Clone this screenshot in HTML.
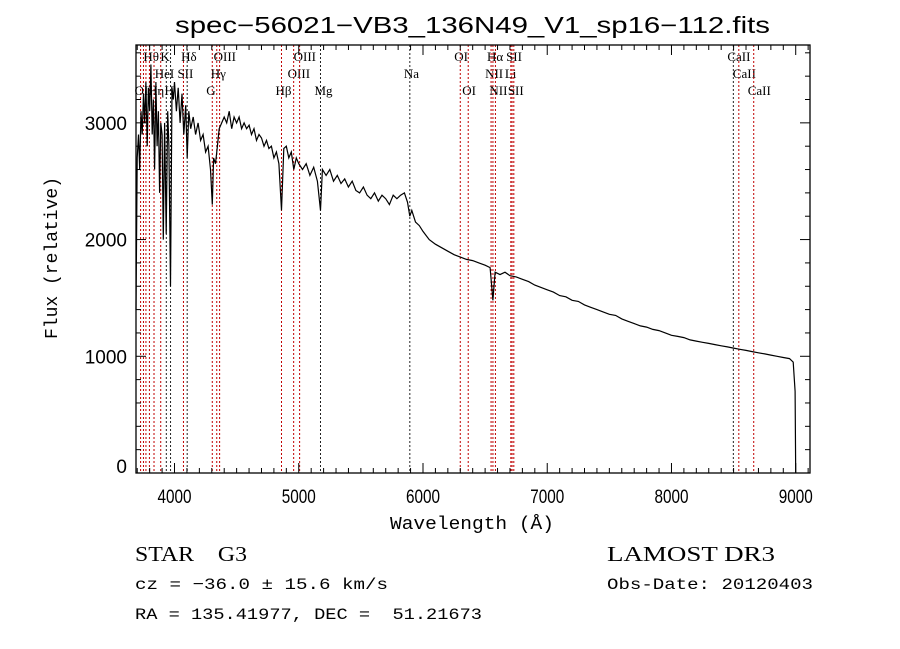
<!DOCTYPE html>
<html><head><meta charset="utf-8">
<style>
body{margin:0;background:#fff;}
svg{display:block;font-family:"Liberation Sans",sans-serif;}
</style></head>
<body>
<svg id="chart" width="900" height="649" viewBox="0 0 900 649" xmlns="http://www.w3.org/2000/svg">
<rect width="900" height="649" fill="#fff"/>
<text x="175" y="33" font-size="23" textLength="595" lengthAdjust="spacingAndGlyphs">spec−56021−VB3_136N49_V1_sp16−112.fits</text>
<g id="lines"></g>
<g id="spec"></g>
<g id="axes"></g>
<text x="390" y="529" font-size="18" textLength="164" lengthAdjust="spacingAndGlyphs" font-family="Liberation Mono, monospace">Wavelength (Å)</text>
<text transform="translate(57,258) rotate(-90)" font-size="18" text-anchor="middle" font-family="Liberation Mono, monospace">Flux (relative)</text>
<text x="135" y="561" font-size="21" textLength="112" lengthAdjust="spacingAndGlyphs" font-family="Liberation Serif, serif" xml:space="preserve">STAR    G3</text>
<text x="607" y="561" font-size="21" textLength="168" lengthAdjust="spacingAndGlyphs" font-family="Liberation Serif, serif">LAMOST DR3</text>
<text x="135" y="589" font-size="16" textLength="253" lengthAdjust="spacingAndGlyphs" font-family="Liberation Mono, monospace">cz = −36.0 ± 15.6 km/s</text>
<text x="607" y="589" font-size="16" textLength="206" lengthAdjust="spacingAndGlyphs" font-family="Liberation Mono, monospace">Obs-Date: 20120403</text>
<text x="135" y="619" font-size="16" textLength="347" lengthAdjust="spacingAndGlyphs" font-family="Liberation Mono, monospace" xml:space="preserve">RA = 135.41977, DEC =  51.21673</text>
</svg>
<script>
const wave = [3690,3700,3710,3720,3730,3740,3750,3760,3770,3780,3790,3800,3810,3820,3830,3840,3850,3860,3870,3880,3890,3900,3910,3920,3933,3945,3955,3968,3980,3990,4000,4015,4030,4045,4060,4075,4090,4102,4115,4130,4150,4170,4190,4210,4230,4250,4270,4290,4304,4315,4330,4345,4360,4380,4400,4420,4440,4460,4480,4500,4520,4540,4560,4580,4600,4620,4640,4660,4680,4700,4720,4740,4760,4780,4800,4820,4840,4861,4880,4900,4920,4940,4960,4980,5000,5030,5060,5090,5120,5150,5175,5190,5220,5250,5280,5310,5340,5370,5400,5430,5460,5490,5520,5550,5580,5610,5640,5670,5700,5730,5760,5790,5820,5850,5875,5894,5910,5940,5970,6000,6050,6100,6150,6200,6250,6300,6350,6400,6450,6500,6540,6563,6580,6620,6660,6700,6750,6800,6850,6900,6950,7000,7050,7100,7150,7200,7250,7300,7350,7400,7450,7500,7550,7600,7650,7700,7750,7800,7850,7900,7950,8000,8050,8100,8150,8200,8250,8300,8350,8400,8450,8500,8550,8600,8650,8700,8750,8800,8850,8900,8950,8980,8995,9000];
const flux = [1400,2700,2900,2600,3100,2900,3250,3000,3350,2800,3300,3100,3500,2900,3200,2600,3350,2800,3100,2400,3000,2900,2000,3000,2050,3100,2800,1600,3300,3200,3350,3100,3300,3000,3250,2900,3150,2700,3100,2950,3050,2900,3000,2850,2900,2750,2800,2600,2300,2700,2650,2800,2950,3000,3050,3000,3100,2950,3050,3000,3050,2950,3000,2950,2980,2900,2950,2850,2900,2870,2800,2850,2780,2800,2700,2750,2650,2250,2780,2800,2700,2750,2600,2700,2650,2600,2650,2550,2620,2500,2250,2600,2550,2600,2500,2550,2480,2520,2450,2500,2420,2400,2450,2380,2350,2400,2330,2380,2350,2300,2380,2350,2380,2400,2320,2200,2250,2150,2120,2070,2000,1960,1930,1900,1870,1850,1830,1820,1800,1780,1760,1480,1720,1700,1720,1690,1680,1660,1640,1610,1590,1570,1550,1520,1510,1480,1470,1440,1420,1400,1380,1360,1350,1320,1300,1280,1260,1250,1230,1220,1200,1180,1170,1160,1140,1130,1120,1110,1100,1090,1080,1070,1060,1050,1040,1030,1020,1010,1000,990,980,950,700,0];
const lineWaves = [3727,3750,3770,3798,3835,3889,3934,3968,4072,4102,4304,4340,4363,4861,4959,5007,5175,5894,6300,6364,6548,6563,6583,6707,6717,6731,8498,8542,8662];
const lineLabels = ["OII","","","Hθ","Hη","HeI","K","H","SII","Hδ","G","Hγ","OIII","Hβ","OIII","OIII","Mg","Na","OI","OI","NII","Hα","NII","Li","SII","SII","CaII","CaII","CaII"];
const lineRows = [2,1,0,0,2,1,0,2,1,0,2,1,0,2,1,0,2,1,0,2,1,0,2,1,0,2,0,1,2];
const lineColors = ["r","r","r","r","r","r","k","k","r","k","r","r","r","r","r","r","k","k","r","r","r","r","r","r","r","r","k","r","r"];
const xTicks = [4000,5000,6000,7000,8000,9000];
const yTicks = [0,1000,2000,3000];

const L=136,R=810,T=45,B=473, X0=3690, X1=9115, Y0=0, Y1=3667;
const sx=w=>L+(w-X0)/(X1-X0)*(R-L);
const sy=f=>B-(f-Y0)/(Y1-Y0)*(B-T);
const NS="http://www.w3.org/2000/svg";
function mk(tag,attrs,parent){const e=document.createElementNS(NS,tag);for(const k in attrs)e.setAttribute(k,attrs[k]);parent.appendChild(e);return e;}

const gl=document.getElementById('lines');
lineWaves.forEach((w,i)=>{
  const x=sx(w);
  const ln=mk('line',{x1:x,x2:x,y1:T,y2:B,stroke:lineColors[i]==="k"?"#222":"#c00000","stroke-width":1,"stroke-dasharray":"2,2"},gl);
  
  
  if(lineLabels[i]){
    const t=mk('text',{x:x-6,y:61+lineRows[i]*17,"font-size":13,"font-family":"Liberation Serif, serif"},gl);
    t.textContent=lineLabels[i];
    
    
  }
});

const gs=document.getElementById('spec');
const pts=wave.map((w,i)=>sx(w).toFixed(1)+","+sy(flux[i]).toFixed(1)).join(" ");
const pl=mk('polyline',{points:pts,fill:"none",stroke:"#000","stroke-width":1.2},gs);



const ga=document.getElementById('axes');
const fr=mk('rect',{x:L,y:T,width:R-L,height:B-T,fill:"none",stroke:"#000","stroke-width":1.3},ga);


for(let w=3700;w<=X1;w+=100){
  const x=sx(w), big=w%1000===0, len=big?10:5;
  mk('line',{x1:x,x2:x,y1:B,y2:B-len,stroke:"#000"},ga);
  mk('line',{x1:x,x2:x,y1:T,y2:T+len,stroke:"#000"},ga);
}
xTicks.forEach(w=>{
  const t=mk('text',{x:sx(w)-17,y:503,"font-size":19,textLength:34,lengthAdjust:"spacingAndGlyphs"},ga);
  t.textContent=w;
  
  
});
for(let f=0;f<=Y1;f+=200){
  const y=sy(f), big=f%1000===0, len=big?10:5;
  mk('line',{x1:L,x2:L+len,y1:y,y2:y,stroke:"#000"},ga);
  mk('line',{x1:R,x2:R-len,y1:y,y2:y,stroke:"#000"},ga);
}
yTicks.forEach(f=>{
  const t=mk('text',{x:127,y:Math.min(sy(f)+7,473),"font-size":19,"text-anchor":"end"},ga);
  t.textContent=f;
  
  
});
</script>
</body></html>
